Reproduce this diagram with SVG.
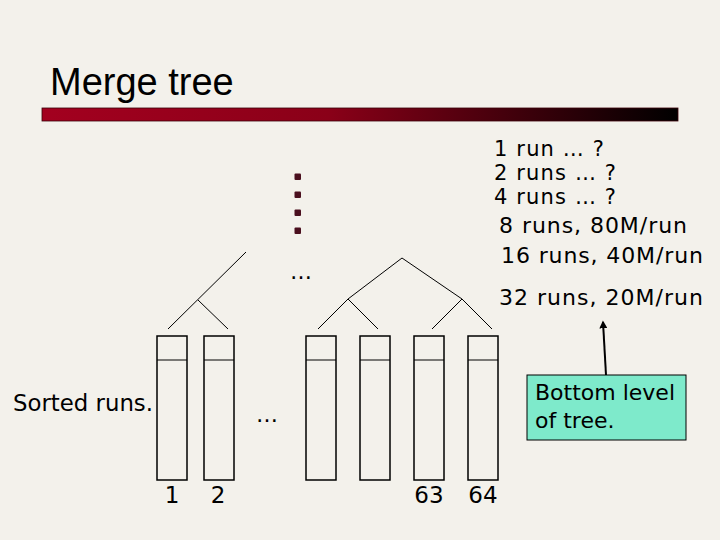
<svg xmlns="http://www.w3.org/2000/svg" width="720" height="540" viewBox="0 0 720 540">
<defs>
<linearGradient id="bar" x1="0" y1="0" x2="1" y2="0">
<stop offset="0" stop-color="#a3001f"/>
<stop offset="0.45" stop-color="#8a0018"/>
<stop offset="1" stop-color="#000000"/>
</linearGradient>
<marker id="ah" viewBox="0 0 10 10" refX="8" refY="5" markerWidth="4" markerHeight="4" orient="auto">
<path d="M0,0 L10,5 L0,10 z" fill="#000"/>
</marker>
</defs>
<style>
.t{font-family:"DejaVu Sans",Verdana,sans-serif;fill:#000}
.box{fill:none;stroke:#000;stroke-width:1.5}
.ln{stroke:#000;stroke-width:1;fill:none}
.dot{fill:#4a0f1e}
</style>
<rect width="720" height="540" fill="#f3f1eb"/>
<g id="title">
<text x="50" y="95" font-family="Liberation Sans, Arial, sans-serif" font-size="38" fill="#000">Merge tree</text>
<rect x="42" y="108" width="636" height="13" fill="url(#bar)" stroke="#3a0008" stroke-width="0.8"/>
</g>
<g id="connectors">
<path class="ln" d="M168,329 L246,252 M198,300 L228,329"/>
<path class="ln" d="M348,299 L402,258 L462,299 M318,329 L348,299 L378,329 M432,329 L462,299 L492,329"/>
<path d="M606,375 L603,322" stroke="#000" stroke-width="2" fill="none" marker-end="url(#ah)"/>
</g>
<g id="dots">
<rect class="dot" x="294.5" y="173.5" width="6.5" height="6.5" rx="1"/>
<rect class="dot" x="294.5" y="191.5" width="6.5" height="6.5" rx="1"/>
<rect class="dot" x="294.5" y="209.5" width="6.5" height="6.5" rx="1"/>
<rect class="dot" x="294.5" y="227.5" width="6.5" height="6.5" rx="1"/>
</g>
<text class="t" x="290" y="279" font-size="22">…</text>
<text class="t" x="256" y="422" font-size="22">…</text>
<g id="run1"><rect class="box" x="157" y="336" width="30" height="144"/><line class="ln" x1="157" y1="360" x2="187" y2="360" stroke-width="1.5"/></g>
<g id="run2"><rect class="box" x="204" y="336" width="30" height="144"/><line class="ln" x1="204" y1="360" x2="234" y2="360" stroke-width="1.5"/></g>
<g id="run3"><rect class="box" x="306" y="336" width="30" height="144"/><line class="ln" x1="306" y1="360" x2="336" y2="360" stroke-width="1.5"/></g>
<g id="run4"><rect class="box" x="360" y="336" width="30" height="144"/><line class="ln" x1="360" y1="360" x2="390" y2="360" stroke-width="1.5"/></g>
<g id="run63"><rect class="box" x="414" y="336" width="30" height="144"/><line class="ln" x1="414" y1="360" x2="444" y2="360" stroke-width="1.5"/></g>
<g id="run64"><rect class="box" x="468" y="336" width="30" height="144"/><line class="ln" x1="468" y1="360" x2="498" y2="360" stroke-width="1.5"/></g>
<g id="labels">
<text class="t" x="172" y="503" font-size="23" text-anchor="middle">1</text>
<text class="t" x="218" y="503" font-size="23" text-anchor="middle">2</text>
<text class="t" x="429" y="503" font-size="23" text-anchor="middle">63</text>
<text class="t" x="483" y="503" font-size="23" text-anchor="middle">64</text>
<text class="t" x="13" y="411" font-size="22.5" textLength="140" lengthAdjust="spacingAndGlyphs">Sorted runs.</text>
</g>
<g id="levels">
<text class="t" x="494" y="156" font-size="21" textLength="110" lengthAdjust="spacing">1 run … ?</text>
<text class="t" x="494" y="180" font-size="21" textLength="122" lengthAdjust="spacing">2 runs … ?</text>
<text class="t" x="494" y="204" font-size="21" textLength="122" lengthAdjust="spacing">4 runs … ?</text>
<text class="t" x="499" y="233" font-size="22" textLength="188" lengthAdjust="spacing">8 runs, 80M/run</text>
<text class="t" x="501" y="263" font-size="22" textLength="202" lengthAdjust="spacing">16 runs, 40M/run</text>
<text class="t" x="499" y="305" font-size="22" textLength="204" lengthAdjust="spacing">32 runs, 20M/run</text>
</g>
<g id="callout">
<rect x="527" y="375" width="159" height="65" fill="#7eeacb" stroke="#000" stroke-width="1"/>
<text class="t" x="535" y="400" font-size="22">Bottom level</text>
<text class="t" x="535" y="428" font-size="22">of tree.</text>
</g>
</svg>
